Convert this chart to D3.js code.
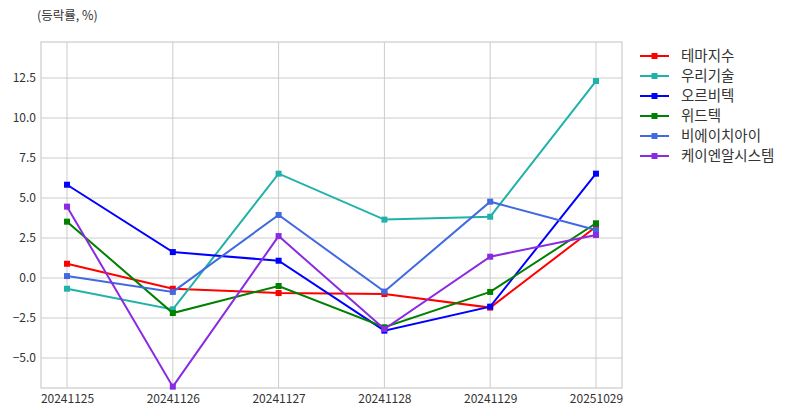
<!DOCTYPE html>
<html><head><meta charset="utf-8">
<script src="https://cdn.jsdelivr.net/npm/d3@7"></script>
<style>body{margin:0;background:#fff}svg{display:block}text{font-family:"Noto Sans CJK KR","Noto Sans",sans-serif}</style>
</head><body><svg id="c" width="792" height="416"></svg>
<script>
const categories = ["20241125","20241126","20241127","20241128","20241129","20251029"];
const seriesNames = ["테마지수","우리기술","오르비텍","위드텍","비에이치아이","케이엔알시스템"];
const seriesColors = ["#ff0000","#20b2aa","#0000ff","#008000","#4169e1","#8a2be2"];
const vTheme = [0.89,-0.67,-0.94,-1.0,-1.85,3.2];
const vWoori = [-0.67,-1.96,6.52,3.65,3.83,12.31];
const vOrbi = [5.83,1.62,1.08,-3.29,-1.79,6.52];
const vWith = [3.52,-2.19,-0.5,-3.08,-0.87,3.42];
const vBHI = [0.12,-0.87,3.94,-0.85,4.77,3.0];
const vKNR = [4.46,-6.79,2.62,-3.19,1.33,2.69];
const yTicks = [-5.0,-2.5,0.0,2.5,5.0,7.5,10.0,12.5];
const allValues = [vTheme,vWoori,vOrbi,vWith,vBHI,vKNR];

const svg = d3.select("#c");
const L=41,R=622,T=42,B=388;
const x = d3.scalePoint().domain(categories).range([L,R]).padding(0.246);
const y = d3.scaleLinear().domain([-6.875,14.75]).range([B,T]);

// grid
const g = svg.append("g");
g.selectAll(".hg").data(yTicks).join("line")
  .attr("x1",L).attr("x2",R).attr("y1",d=>y(d)).attr("y2",d=>y(d))
  .attr("stroke","#cccccc").attr("stroke-width",1);
g.selectAll(".vg").data(categories).join("line")
  .attr("x1",d=>x(d)).attr("x2",d=>x(d)).attr("y1",T).attr("y2",B)
  .attr("stroke","#cccccc").attr("stroke-width",1);
svg.append("rect").attr("x",L).attr("y",T).attr("width",R-L).attr("height",B-T)
  .attr("fill","none").attr("stroke","#cccccc").attr("stroke-width",1.2);

// axes labels
const yAxis = d3.axisLeft(y).tickValues(yTicks).tickFormat(d3.format(".1f")).tickSize(0).tickPadding(5);
const ya = svg.append("g").attr("transform",`translate(${L},0)`).call(yAxis);
ya.select(".domain").remove();
ya.selectAll("text").attr("font-size",12).attr("fill","#333");
const xAxis = d3.axisBottom(x).tickSize(0).tickPadding(6);
const xa = svg.append("g").attr("transform",`translate(0,${B})`).call(xAxis);
xa.select(".domain").remove();
xa.selectAll("text").attr("font-size",12).attr("fill","#333");

// lines
const line = d3.line().x((d,i)=>x(categories[i])).y(d=>y(d));
allValues.forEach((vals,k)=>{
  const c = seriesColors[k];
  svg.append("path").datum(vals).attr("d",line).attr("fill","none")
    .attr("stroke",c).attr("stroke-width",2);
  svg.selectAll(null).data(vals).join("rect")
    .attr("x",(d,i)=>x(categories[i])-3).attr("y",d=>y(d)-3)
    .attr("width",6).attr("height",6).attr("fill",c);
});

// title
svg.append("text").attr("x",37).attr("y",20).attr("font-size",12.5).attr("fill","#333").text("(등락률, %)");

// legend
const lg = svg.append("g");
seriesNames.forEach((n,k)=>{
  const yy = 56 + k*20;
  lg.append("line").attr("x1",640).attr("x2",669).attr("y1",yy).attr("y2",yy)
    .attr("stroke",seriesColors[k]).attr("stroke-width",2);
  lg.append("rect").attr("x",651.5).attr("y",yy-3).attr("width",6).attr("height",6).attr("fill",seriesColors[k]);
  lg.append("text").attr("x",681).attr("y",yy).attr("dy","0.36em").attr("font-size",14.5).attr("fill","#333").text(n);
});
</script></body></html>
